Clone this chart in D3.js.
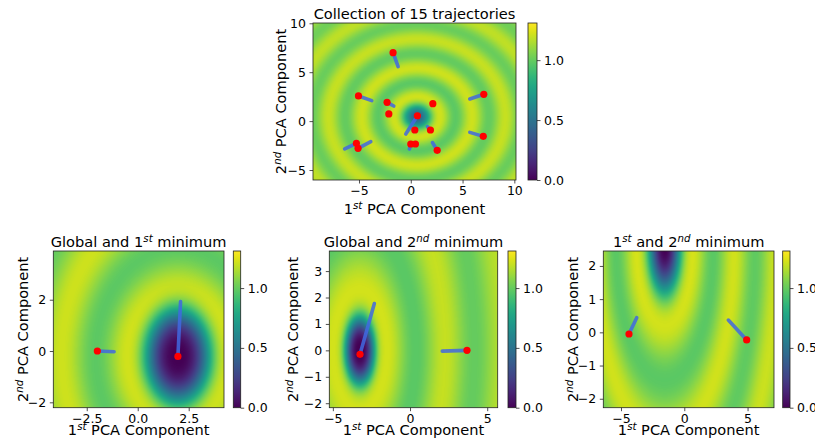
<!DOCTYPE html>
<html>
<head>
<meta charset="utf-8">
<script src="https://cdn.jsdelivr.net/npm/d3@7"></script>
<style>
  body { margin: 0; background: #fff; }
  text { font-family: "DejaVu Sans", sans-serif; fill: #000; }
</style>
</head>
<body>
<svg id="fig" width="815" height="446"></svg>
<script>
// ---- data ----------------------------------------------------------------
const colorMax = 1.31;
const colorTicks = [0.0, 0.5, 1.0];

// axis ranges [min, max] and tick values for each panel
const xRangeTop = [-9.44, 10.16], yRangeTop = [-6.02, 10.03];
const xRangeBL  = [-4.14, 4.23],  yRangeBL  = [-2.21, 3.9];
const xRangeBM  = [-5.23, 5.68],  yRangeBM  = [-2.17, 3.76];
const xRangeBR  = [-6.4, 7.09],   yRangeBR  = [-2.27, 2.45];

const xTicksTop = [-5, 0, 5, 10],   yTicksTop = [-5, 0, 5, 10];
const xTicksBL  = [-2.5, 0, 2.5],   yTicksBL  = [-2, 0, 2];
const xTicksBM  = [-5, 0, 5],       yTicksBM  = [-2, -1, 0, 1, 2, 3];
const xTicksBR  = [-5, 0, 5],       yTicksBR  = [-2, -1, 0, 1, 2];

// trajectories: [startX, startY, endX, endY]; the end is marked in red
const trajTop = [
  [-1.22, 5.57, -1.71, 7.0],
  [-3.77, 2.09, -5.05, 2.57],
  [-1.64, 1.54, -2.29, 1.92],
  [-2.12, 0.73, -2.12, 0.73],
  [2.13, 1.78, 2.13, 1.78],
  [-0.48, -1.32, 0.64, 0.55],
  [0.39, -0.91, 0.39, -0.91],
  [1.61, -0.57, 1.9, -0.91],
  [-0.13, -2.85, 0.0, -2.34],
  [0.45, -2.34, 0.45, -2.34],
  [2.1, -2.2, 2.55, -2.99],
  [5.7, 2.26, 7.05, 2.74],
  [5.7, -1.15, 7.0, -1.56],
  [-6.38, -2.85, -5.25, -2.27],
  [-3.86, -2.1, -5.09, -2.78]
];
const trajBL = [[-1.16, -0.03, -1.98, 0.0], [2.1, 1.93, 1.97, -0.21]];
const trajBM = [[-2.31, 1.77, -3.24, -0.15], [2.09, -0.03, 3.69, 0.0]];
const trajBR = [[-3.76, 0.44, -4.37, -0.05], [3.48, 0.37, 4.93, -0.23]];

// loss surface parameters: a damped radial ripple around a central basin
const landTop = {cx: 0.6,   cy: 0.45,  sy: 0.93, coreSy: 0.93, r1: 2.15, lam: 3.2, base: 1.1,  amp: 0.14, decay: 22, depth: 0.6, w: 1.1,  pw: 2};
const landBL  = {cx: 1.97,  cy: -0.2,  sy: 1.05, coreSy: 1.2,  r1: 2.4,  lam: 3.3, base: 1.1,  amp: 0.14, decay: 25, depth: 1,   w: 1.45, pw: 3};
const landBM  = {cx: -3.25, cy: 0.0,   sy: 1.3,  coreSy: 1.35, r1: 1.75, lam: 3.8, base: 1.09, amp: 0.15, decay: 15, depth: 1,   w: 0.9,  pw: 3};
const landBR  = {cx: -1.55, cy: 2.6,   sy: 1.05, coreSy: 1.15, r1: 2.2,  lam: 3.3, base: 1.1,  amp: 0.14, decay: 30, depth: 1,   w: 1.1,  pw: 2.5};

// titles as [text, isSuperscript] runs
const titleTop = [["Collection of 15 trajectories", false]];
const titleBL  = [["Global and 1", false], ["st", true], [" minimum", false]];
const titleBM  = [["Global and 2", false], ["nd", true], [" minimum", false]];
const titleBR  = [["1", false], ["st", true], [" and 2", false], ["nd", true], [" minimum", false]];
const xLabelRuns = [["1", false], ["st", true], [" PCA Component", false]];
const yLabelRuns = [["2", false], ["nd", true], [" PCA Component", false]];

// ---- layout --------------------------------------------------------------
const panels = [
  {box: [313, 23, 516, 180],     cb: [528, 537],     yLabX: 286,   xLabY: 213.5, titleY: 18.5,
   xr: xRangeTop, yr: yRangeTop, xt: xTicksTop, yt: yTicksTop, xf: "d",   traj: trajTop, land: landTop, title: titleTop},
  {box: [53.3, 251, 224, 407.7], cb: [233.3, 240.7], yLabX: 27.7,  xLabY: 434.5, titleY: 246.5,
   xr: xRangeBL, yr: yRangeBL, xt: xTicksBL, yt: yTicksBL, xf: ".1f", traj: trajBL, land: landBL, title: titleBL},
  {box: [329.3, 251, 497.7, 407.7], cb: [508, 516],  yLabX: 298.3, xLabY: 434.5, titleY: 246.5,
   xr: xRangeBM, yr: yRangeBM, xt: xTicksBM, yt: yTicksBM, xf: "d",   traj: trajBM, land: landBM, title: titleBM},
  {box: [603.3, 251, 774, 407.7], cb: [782.7, 790],  yLabX: 578,   xLabY: 434.5, titleY: 246.5,
   xr: xRangeBR, yr: yRangeBR, xt: xTicksBR, yt: yTicksBR, xf: "d",   traj: trajBR, land: landBR, title: titleBR}
];

const svg = d3.select("#fig");
const color = d3.scaleSequential(d3.interpolateViridis).domain([0, colorMax]);
const FS_TICK = 12.5, FS_LABEL = 14.6;

function surface(p, x, y) {
  const dx = x - p.cx;
  const r = Math.hypot(dx, (y - p.cy) / p.sy);
  const rc = Math.hypot(dx, (y - p.cy) / p.coreSy);
  const amp = p.amp * Math.exp(-r / p.decay);
  const wave = p.base + amp * Math.cos(2 * Math.PI * (r - p.r1) / p.lam);
  const core = 1 - p.depth * Math.exp(-Math.pow(rc / p.w, p.pw));
  return Math.max(0, wave * core);
}

function richText(sel, runs, size) {
  runs.forEach(([txt, sup], i) => {
    const t = sel.append("tspan").text(txt);
    if (sup) t.attr("font-size", size * 0.7).attr("font-style", "italic").attr("dy", -size * 0.34);
    else if (i > 0 && runs[i - 1][1]) t.attr("dy", size * 0.34);
  });
}

// shared colour gradient for the colour bars
const defs = svg.append("defs");
const grad = defs.append("linearGradient").attr("id", "viridisBar")
  .attr("x1", 0).attr("y1", 1).attr("x2", 0).attr("y2", 0);
d3.range(0, 1.0001, 0.02).forEach(t => {
  grad.append("stop").attr("offset", t).attr("stop-color", d3.interpolateViridis(t));
});

panels.forEach((P, k) => {
  const [L, T, R, B] = P.box;
  const xs = d3.scaleLinear().domain(P.xr).range([L, R]);
  const ys = d3.scaleLinear().domain(P.yr).range([B, T]);
  const g = svg.append("g");

  // heat map of the loss surface
  const cw = Math.round(R - L), ch = Math.round(B - T);
  const canvas = document.createElement("canvas");
  canvas.width = cw; canvas.height = ch;
  const ctx = canvas.getContext("2d");
  const img = ctx.createImageData(cw, ch);
  for (let j = 0; j < ch; j++) {
    const y = ys.invert(T + (j + 0.5) * (B - T) / ch);
    for (let i = 0; i < cw; i++) {
      const x = xs.invert(L + (i + 0.5) * (R - L) / cw);
      const c = d3.rgb(color(Math.min(colorMax, surface(P.land, x, y))));
      const o = 4 * (j * cw + i);
      img.data[o] = c.r; img.data[o + 1] = c.g; img.data[o + 2] = c.b; img.data[o + 3] = 255;
    }
  }
  ctx.putImageData(img, 0, 0);
  g.append("image").attr("href", canvas.toDataURL())
    .attr("x", L).attr("y", T).attr("width", R - L).attr("height", B - T)
    .attr("preserveAspectRatio", "none");

  // trajectories
  const clipId = "clip" + k;
  defs.append("clipPath").attr("id", clipId).append("rect")
    .attr("x", L).attr("y", T).attr("width", R - L).attr("height", B - T);
  const tg = g.append("g").attr("clip-path", `url(#${clipId})`);
  tg.selectAll("line.traj").data(P.traj).join("line").attr("class", "traj")
    .attr("x1", d => xs(d[0])).attr("y1", d => ys(d[1]))
    .attr("x2", d => xs(d[2])).attr("y2", d => ys(d[3]))
    .attr("stroke", "#4169e1").attr("stroke-opacity", 0.85)
    .attr("stroke-width", 3.6).attr("stroke-linecap", "round");
  tg.selectAll("circle.end").data(P.traj).join("circle").attr("class", "end")
    .attr("cx", d => xs(d[2])).attr("cy", d => ys(d[3])).attr("r", 3.6)
    .attr("fill", "#ff0000");

  // axes
  const ax = g.append("g").attr("transform", `translate(0,${B})`)
    .call(d3.axisBottom(xs).tickValues(P.xt).tickSize(3.5).tickPadding(2.5).tickFormat(d3.format(P.xf)));
  const ay = g.append("g").attr("transform", `translate(${L},0)`)
    .call(d3.axisLeft(ys).tickValues(P.yt).tickSize(3.5).tickPadding(3.5).tickFormat(d3.format("d")));
  [ax, ay].forEach(a => {
    a.select(".domain").remove();
    a.selectAll("line").attr("stroke", "#222").attr("stroke-width", 0.8);
    a.selectAll("text").attr("font-size", FS_TICK).attr("font-family", "DejaVu Sans").attr("fill", "#000");
  });
  g.append("rect").attr("x", L).attr("y", T).attr("width", R - L).attr("height", B - T)
    .attr("fill", "none").attr("stroke", "#222").attr("stroke-width", 0.8);

  // colour bar
  const [c0, c1] = P.cb;
  const cs = d3.scaleLinear().domain([0, colorMax]).range([B, T]);
  g.append("rect").attr("x", c0).attr("y", T).attr("width", c1 - c0).attr("height", B - T)
    .attr("fill", "url(#viridisBar)").attr("stroke", "#222").attr("stroke-width", 0.8);
  const ac = g.append("g").attr("transform", `translate(${c1},0)`)
    .call(d3.axisRight(cs).tickValues(colorTicks).tickSize(3.5).tickPadding(3.5).tickFormat(d3.format(".1f")));
  ac.select(".domain").remove();
  ac.selectAll("line").attr("stroke", "#222").attr("stroke-width", 0.8);
  ac.selectAll("text").attr("font-size", FS_TICK).attr("font-family", "DejaVu Sans").attr("fill", "#000");

  // labels and title
  const xl = g.append("text").attr("x", (L + R) / 2).attr("y", P.xLabY)
    .attr("text-anchor", "middle").attr("font-size", FS_LABEL);
  richText(xl, xLabelRuns, FS_LABEL);
  const yl = g.append("text").attr("transform", `translate(${P.yLabX},${(T + B) / 2}) rotate(-90)`)
    .attr("text-anchor", "middle").attr("font-size", FS_LABEL);
  richText(yl, yLabelRuns, FS_LABEL);
  const tt = g.append("text").attr("x", (L + R) / 2).attr("y", P.titleY)
    .attr("text-anchor", "middle").attr("font-size", FS_LABEL);
  richText(tt, P.title, FS_LABEL);
});
</script>
</body>
</html>
